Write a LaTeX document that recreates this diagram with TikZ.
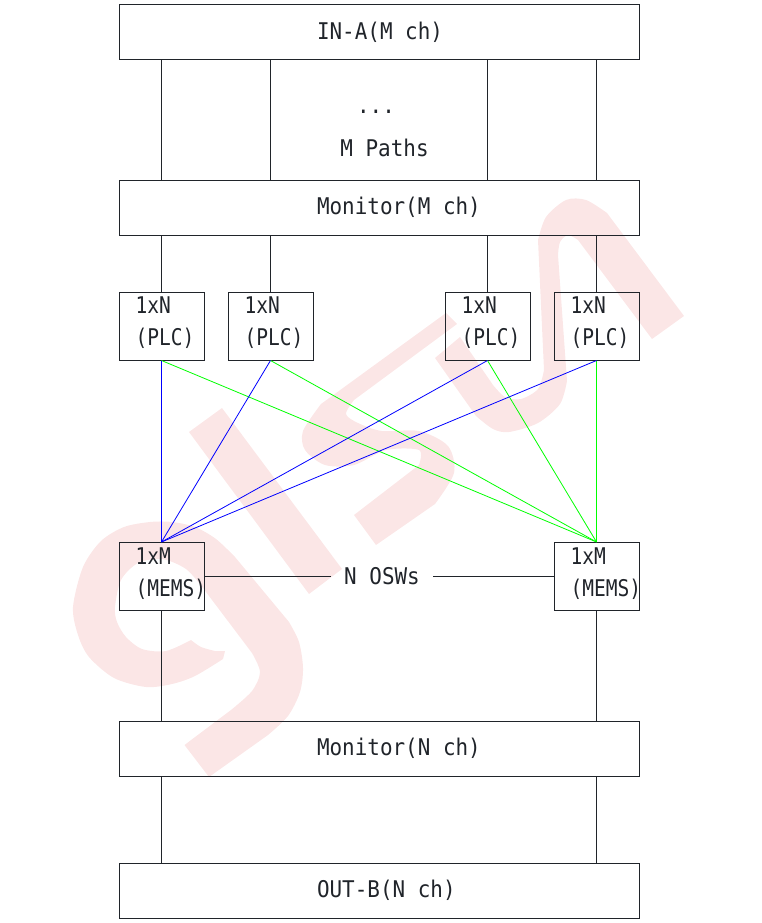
\documentclass[tikz,border=0pt]{standalone}
\usepackage{fontspec}
\newfontfamily\labelfont[FakeStretch=0.91]{DejaVu Sans Mono}
\newfontfamily\unitfont[FakeStretch=0.85]{DejaVu Sans Mono}
\usetikzlibrary{positioning}
\definecolor{markred}{RGB}{251,230,230}
\definecolor{inkdark}{RGB}{32,36,42}
\begin{document}
\begin{tikzpicture}[
x=1pt,y=-1pt,
wide/.style={
  draw=inkdark,
  line width=1pt,
  text=inkdark,
  font=\labelfont\fontsize{23}{28}\selectfont,
  text width=520pt,
  minimum height=55pt,
  inner xsep=0pt,
  align=flush left,
  execute at begin node={\hspace*{198pt}}
},
unit/.style={
  draw=inkdark,
  line width=1pt,
  text=inkdark,
  font=\unitfont\fontsize{23}{32}\selectfont,
  text width=52pt,
  minimum height=68pt,
  inner xsep=16.5pt,
  inner ysep=0pt,
  align=flush left,
  text depth=41pt
},
tag/.style={
  text=inkdark,
  font=\labelfont\fontsize{23}{28}\selectfont
},
wire/.style={
  inkdark,
  line width=1pt
},
toblue/.style={
  blue,
  line width=0.8pt
},
togreen/.style={
  green,
  line width=0.8pt
}
]
\useasboundingbox (0,0) rectangle (761,923);

% watermark
\fill[markred] (222,408) -- (189,432) -- (309,594) -- (342,569) -- cycle;
\fill[markred] (184.5,745) -- (209,777) -- (268,735)
  -- plot[smooth] coordinates {(268,735) (288,716) (300,692) (303,668) (299,642) (289,622)}
  -- (235,557)
  -- plot[smooth] coordinates {(235,557) (216,539) (195,527) (172,522) (150,522) (124,527) (101,541) (83,567) (73,607) (78,635) (89,657) (114,678) (146,687) (172,684) (195,676) (223,659)}
  -- (225,651) -- (215,651)
  -- plot[smooth] coordinates {(215,651) (201,647) (191,640)}
  -- plot[smooth] coordinates {(191,640) (166,651) (142,649) (126,637) (117,622) (115,607) (121,580) (138,563) (162,559) (186,569) (203,588)}
  -- (252,653)
  -- plot[smooth] coordinates {(252,653) (260,672) (252,691) (231,710)}
  -- cycle;
\fill[markred] (446,313) -- (321,404)
  -- plot[smooth] coordinates {(321,404) (303,431) (305,450) (325,465) (354,465) (386,450) (419,450) (419,465)}
  -- (354,515) -- (376,545) -- (435,504)
  -- plot[smooth] coordinates {(435,504) (454,473) (448,446) (419,431) (382,431) (358,423) (346,414) (354,400)}
  -- (457,324) -- cycle;
\fill[markred] (435,358) -- (476,416)
  -- plot[smooth] coordinates {(476,416) (493,429) (509,432) (538,423) (560,404) (567,381)}
  -- (558,255)
  -- plot[smooth] coordinates {(558,255) (560,242) (568,235) (578,240)}
  -- (652,339) -- (684,316) -- (607,213)
  -- plot[smooth] coordinates {(607,213) (586,200) (566,200) (546,217) (538,240)}
  -- (544,370)
  -- plot[smooth] coordinates {(544,370) (538,389) (521,399) (505,397) (493,385)}
  -- (460,337) -- cycle;

% boxes
\node[wide] (ina) at (379,32.5) {IN-A(M ch)};
\node[wide] (monm) at (379,207.5) {Monitor(M ch)};
\node[wide] (monn) at (379,748.5) {Monitor(N ch)};
\node[wide] (outb) at (379,890.5) {OUT-B(N ch)};

\node[unit] (plc1) at (161.5,326) {1xN\\(PLC)};
\node[unit] (plc2) at (270.5,326) {1xN\\(PLC)};
\node[unit] (plc3) at (487.5,326) {1xN\\(PLC)};
\node[unit] (plc4) at (596.5,326) {1xN\\(PLC)};
\node[unit] (mems1) at (161.5,576.5) {1xM\\(MEMS)};
\node[unit] (mems2) at (596.5,576.5) {1xM\\(MEMS)};

\node[tag,inner xsep=13pt,inner ysep=0pt] (osw) at (382,576.5) {N OSWs};
\node[tag,inner sep=0pt] (dots) at (376,112) {...};
\node[tag,inner sep=0pt] (paths) at (384.5,148) {M Paths};

% in to monitor, monitor to splitters
\draw[wire] (ina.south-|plc1) -- (monm.north-|plc1);
\draw[wire] (ina.south-|plc2) -- (monm.north-|plc2);
\draw[wire] (ina.south-|plc3) -- (monm.north-|plc3);
\draw[wire] (ina.south-|plc4) -- (monm.north-|plc4);
\draw[wire] (monm.south-|plc1) -- (plc1);
\draw[wire] (monm.south-|plc2) -- (plc2);
\draw[wire] (monm.south-|plc3) -- (plc3);
\draw[wire] (monm.south-|plc4) -- (plc4);

% splitters to switches
\draw[togreen] (plc1.south) -- (mems2.north);
\draw[togreen] (plc2.south) -- (mems2.north);
\draw[togreen] (plc3.south) -- (mems2.north);
\draw[togreen] (plc4.south) -- (mems2.north);
\draw[toblue] (plc1.south) -- (mems1.north);
\draw[toblue] (plc2.south) -- (mems1.north);
\draw[toblue] (plc3.south) -- (mems1.north);
\draw[toblue] (plc4.south) -- (mems1.north);

\draw[wire] (mems1) -- (osw);
\draw[wire] (osw) -- (mems2);

% switches to monitor and out
\draw[wire] (mems1.south) -- (monn.north-|mems1);
\draw[wire] (mems2.south) -- (monn.north-|mems2);
\draw[wire] (monn.south-|mems1) -- (outb.north-|mems1);
\draw[wire] (monn.south-|mems2) -- (outb.north-|mems2);
\end{tikzpicture}
\end{document}
